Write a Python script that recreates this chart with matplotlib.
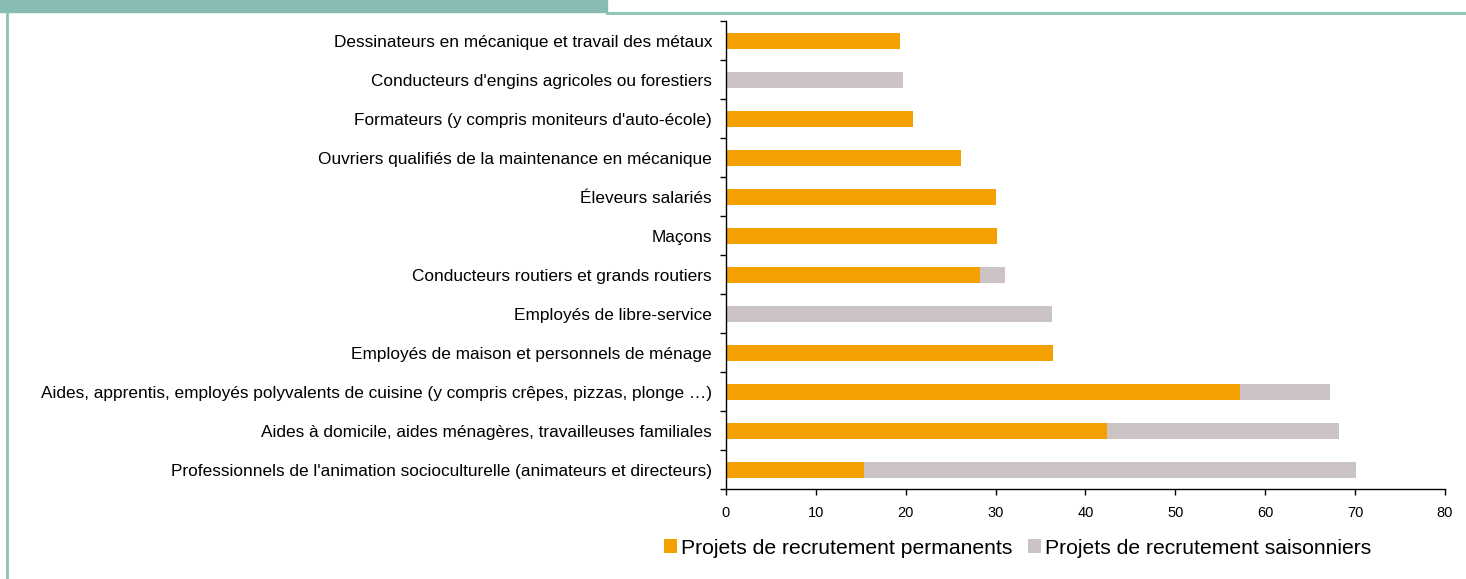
import matplotlib.pyplot as plt
import numpy as np
from matplotlib.patches import Rectangle
from matplotlib.lines import Line2D

plt.rcParams['font.family'] = ['Liberation Sans', 'DejaVu Sans']

# categories listed from top to bottom
metiers = [
    "Dessinateurs en mécanique et travail des métaux",
    "Conducteurs d'engins agricoles ou forestiers",
    "Formateurs (y compris moniteurs d'auto-école)",
    "Ouvriers qualifiés de la maintenance en mécanique",
    "Éleveurs salariés",
    "Maçons",
    "Conducteurs routiers et grands routiers",
    "Employés de libre-service",
    "Employés de maison et personnels de ménage",
    "Aides, apprentis, employés polyvalents de cuisine (y compris crêpes, pizzas, plonge …)",
    "Aides à domicile, aides ménagères, travailleuses familiales",
    "Professionnels de l'animation socioculturelle (animateurs et directeurs)",
]
permanents = [19.4, 0.0, 20.8, 26.1, 30.0, 30.1, 28.3, 0.0, 36.4, 57.2, 42.4, 15.4]
saisonniers = [0.0, 19.7, 0.0, 0.0, 0.0, 0.0, 2.7, 36.3, 0.0, 10.0, 25.8, 54.7]
xticks = [0, 10, 20, 30, 40, 50, 60, 70, 80]

orange = '#F4A000'
gris = '#CCC3C5'
vert = '#88BBB1'

fig = plt.figure(figsize=(14.66, 5.79), dpi=100)
ax = fig.add_axes([0.4952, 0.1554, 0.4905, 0.8083])

y = np.arange(len(metiers))
perm = np.array(permanents)
sais = np.array(saisonniers)
ax.barh(y, perm, height=0.41, color=orange, label='Projets de recrutement permanents')
ax.barh(y, sais, left=perm, height=0.41, color=gris, label='Projets de recrutement saisonniers')

ax.set_ylim(len(metiers) - 0.5, -0.5)
ax.set_xlim(0, 80)
ax.set_xticks(xticks)
ax.set_yticks(y)
ax.set_yticklabels(metiers, fontsize=12.4)
ax.set_yticks(np.arange(len(metiers) + 1) - 0.5, minor=True)
ax.tick_params(axis='y', which='major', length=0, pad=10)
ax.tick_params(axis='y', which='minor', length=4, width=1)
ax.tick_params(axis='x', length=4, width=1, pad=8, labelsize=10.5)
for s in ['top', 'right']:
    ax.spines[s].set_visible(False)
ax.spines['left'].set_linewidth(1)
ax.spines['bottom'].set_linewidth(1)

# frame decoration: tab, top line and left border
fig.patches.append(Rectangle((0, 1 - 12 / 579), 607 / 1466, 12 / 579,
                             transform=fig.transFigure, color=vert, zorder=0))
fig.lines.append(Line2D([607 / 1466, 1], [1 - 13 / 579, 1 - 13 / 579],
                        transform=fig.transFigure, color='#86C5B6', lw=2))
fig.lines.append(Line2D([7 / 1466, 7 / 1466], [0, 1 - 12 / 579],
                        transform=fig.transFigure, color='#86C5B6', lw=2))

fig.legend(loc='center', bbox_to_anchor=(1018 / 1466, 1 - 548 / 579), ncol=2,
           frameon=False, fontsize=15.2, handlelength=0.6, handleheight=0.6,
           handletextpad=0.2, columnspacing=0.75)

fig.savefig('out.png', dpi=100)
